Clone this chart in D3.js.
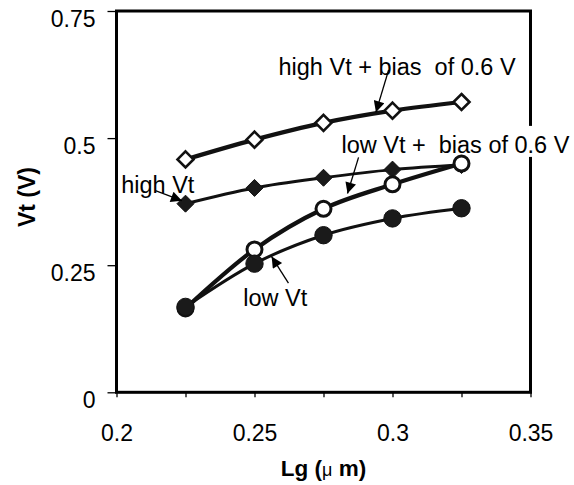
<!DOCTYPE html>
<html>
<head>
<meta charset="utf-8">
<script src="https://cdn.jsdelivr.net/npm/d3@7"></script>
<style>
  body { margin: 0; background: #fff; }
  svg { display: block; font-family: "Liberation Sans", Arial, sans-serif; }
  text { white-space: pre; }
</style>
</head>
<body>
<svg id="chart" width="574" height="485"></svg>
<script>
// gate length (um) for every series
var lg = [0.225, 0.25, 0.275, 0.3, 0.325];

// threshold voltage (V)
var highVtBias = [0.458, 0.497, 0.530, 0.554, 0.571];
var highVt     = [0.371, 0.402, 0.422, 0.438, 0.447];
var lowVtBias  = [0.165, 0.281, 0.361, 0.409, 0.450];
var lowVt      = [0.168, 0.253, 0.309, 0.342, 0.362];

var xTicks = [0.2, 0.225, 0.25, 0.275, 0.3, 0.325, 0.35];
var xTickLabels = {"0.2": "0.2", "0.25": "0.25", "0.3": "0.3", "0.35": "0.35"};
var yTicks = [0, 0.25, 0.5, 0.75];
var yTickLabels = ["0", "0.25", "0.5", "0.75"];

var labels = ["high Vt + bias  of 0.6 V", "low Vt +  bias of 0.6 V", "high Vt", "low Vt"];

var svg = d3.select("#chart");
var L = 116.5, R = 530.5, T = 11, B = 392.3;

var x = d3.scaleLinear().domain([0.2, 0.35]).range([L, R]);
var y = d3.scaleLinear().domain([0, 0.75]).range([B, T]);

svg.append("defs").append("marker")
  .attr("id", "arr").attr("viewBox", "0 0 10 10")
  .attr("refX", 10).attr("refY", 5)
  .attr("markerWidth", 15).attr("markerHeight", 11)
  .attr("markerUnits", "userSpaceOnUse")
  .attr("orient", "auto")
  .append("path").attr("d", "M0,0L10,5L0,10Z").attr("fill", "#000");

// axes
var gx = svg.append("g").attr("transform", "translate(0," + B + ")")
  .call(d3.axisBottom(x).tickValues(xTicks).tickSize(5).tickPadding(27)
    .tickFormat(d => xTickLabels[String(+d.toFixed(3))] || ""));
gx.select(".domain").remove();
gx.selectAll("line").attr("stroke", "#000").attr("stroke-width", 1.3);
gx.selectAll("text").attr("font-size", 23).attr("fill", "#000")
  .attr("font-family", "Liberation Sans, Arial, sans-serif");

var gy = svg.append("g").attr("transform", "translate(" + L + ",0)")
  .call(d3.axisLeft(y).tickValues(yTicks).tickSize(9).tickPadding(12)
    .tickFormat((d, i) => yTickLabels[i]));
gy.select(".domain").remove();
gy.selectAll("line").attr("stroke", "#000").attr("stroke-width", 1.3);
gy.selectAll("text").attr("font-size", 23).attr("fill", "#000").attr("dy", 15.5)
  .attr("font-family", "Liberation Sans, Arial, sans-serif");

// plot frame
svg.append("rect").attr("x", L).attr("y", T)
  .attr("width", R - L).attr("height", B - T)
  .attr("fill", "none").attr("stroke", "#000").attr("stroke-width", 3);

// white box behind the label that runs over the frame
svg.append("rect").attr("x", x(0.2797)).attr("y", y(0.524))
  .attr("width", 574 - x(0.2797)).attr("height", y(0.463) - y(0.524))
  .attr("fill", "#fff");

// axis titles
svg.append("text").attr("transform", "translate(35,197) rotate(-90)")
  .attr("text-anchor", "middle").attr("font-size", 23).attr("font-weight", "bold")
  .text("Vt (V)");
var xt = svg.append("text").attr("x", (L + R) / 2).attr("y", 476)
  .attr("text-anchor", "middle").attr("font-size", 22.5).attr("font-weight", "bold");
xt.append("tspan").text("Lg (");
xt.append("tspan").attr("font-weight", "normal").attr("font-size", 18).text("\u03bc");
xt.append("tspan").text(" m)");

// Excel-style smoothed lines
var line = d3.line().curve(d3.curveCardinal.tension(0))
  .x((d, i) => x(lg[i])).y(d => y(d));
function diamond(s) { return "M0," + (-s) + "L" + s + ",0L0," + s + "L" + (-s) + ",0Z"; }

var series = [
  {v: highVtBias, w: 4.2, mark: "diamond", fill: "#fff", s: 8},
  {v: highVt,     w: 3,   mark: "diamond", fill: "#1a1a1a", s: 8.5},
  {v: lowVtBias,  w: 4.2, mark: "circle",  fill: "#fff", s: 7.5},
  {v: lowVt,      w: 3,   mark: "circle",  fill: "#1a1a1a", s: 8.7}
];

series.forEach(function(sr) {
  svg.append("path").datum(sr.v).attr("d", line)
    .attr("fill", "none").attr("stroke", "#111").attr("stroke-width", sr.w)
    .attr("stroke-linejoin", "round");
  var g = svg.append("g");
  if (sr.mark == "diamond") {
    g.selectAll("path").data(sr.v).join("path")
      .attr("transform", (d, i) => "translate(" + x(lg[i]) + "," + y(d) + ")")
      .attr("d", diamond(sr.s))
      .attr("fill", sr.fill).attr("stroke", "#111").attr("stroke-width", sr.fill == "#fff" ? 2.6 : 1);
  } else {
    g.selectAll("circle").data(sr.v).join("circle")
      .attr("cx", (d, i) => x(lg[i])).attr("cy", d => y(d)).attr("r", sr.s)
      .attr("fill", sr.fill).attr("stroke", "#111").attr("stroke-width", sr.fill == "#fff" ? 3 : 1);
  }
});

// annotations: text start, arrow tail, arrow tip (data units)
var notes = [
  {t: labels[0], tx: 0.2587, ty: 0.624, ax: 0.2986, ay: 0.634, bx: 0.2940, by: 0.551},
  {t: labels[1], tx: 0.2815, ty: 0.4705, ax: 0.2877, ay: 0.462, bx: 0.2837, by: 0.391},
  {t: labels[2], tx: 0.2017, ty: 0.392, ax: 0.2141, ay: 0.3965, bx: 0.2237, by: 0.377},
  {t: labels[3], tx: 0.2459, ty: 0.169, ax: 0.2623, ay: 0.2146, bx: 0.2562, by: 0.267}
];
notes.forEach(function(n) {
  svg.append("text").attr("x", x(n.tx)).attr("y", y(n.ty))
    .attr("font-size", 23.5).attr("fill", "#000").text(n.t);
  svg.append("line")
    .attr("x1", x(n.ax)).attr("y1", y(n.ay)).attr("x2", x(n.bx)).attr("y2", y(n.by))
    .attr("stroke", "#000").attr("stroke-width", 1.3).attr("marker-end", "url(#arr)");
});
</script>
</body>
</html>
